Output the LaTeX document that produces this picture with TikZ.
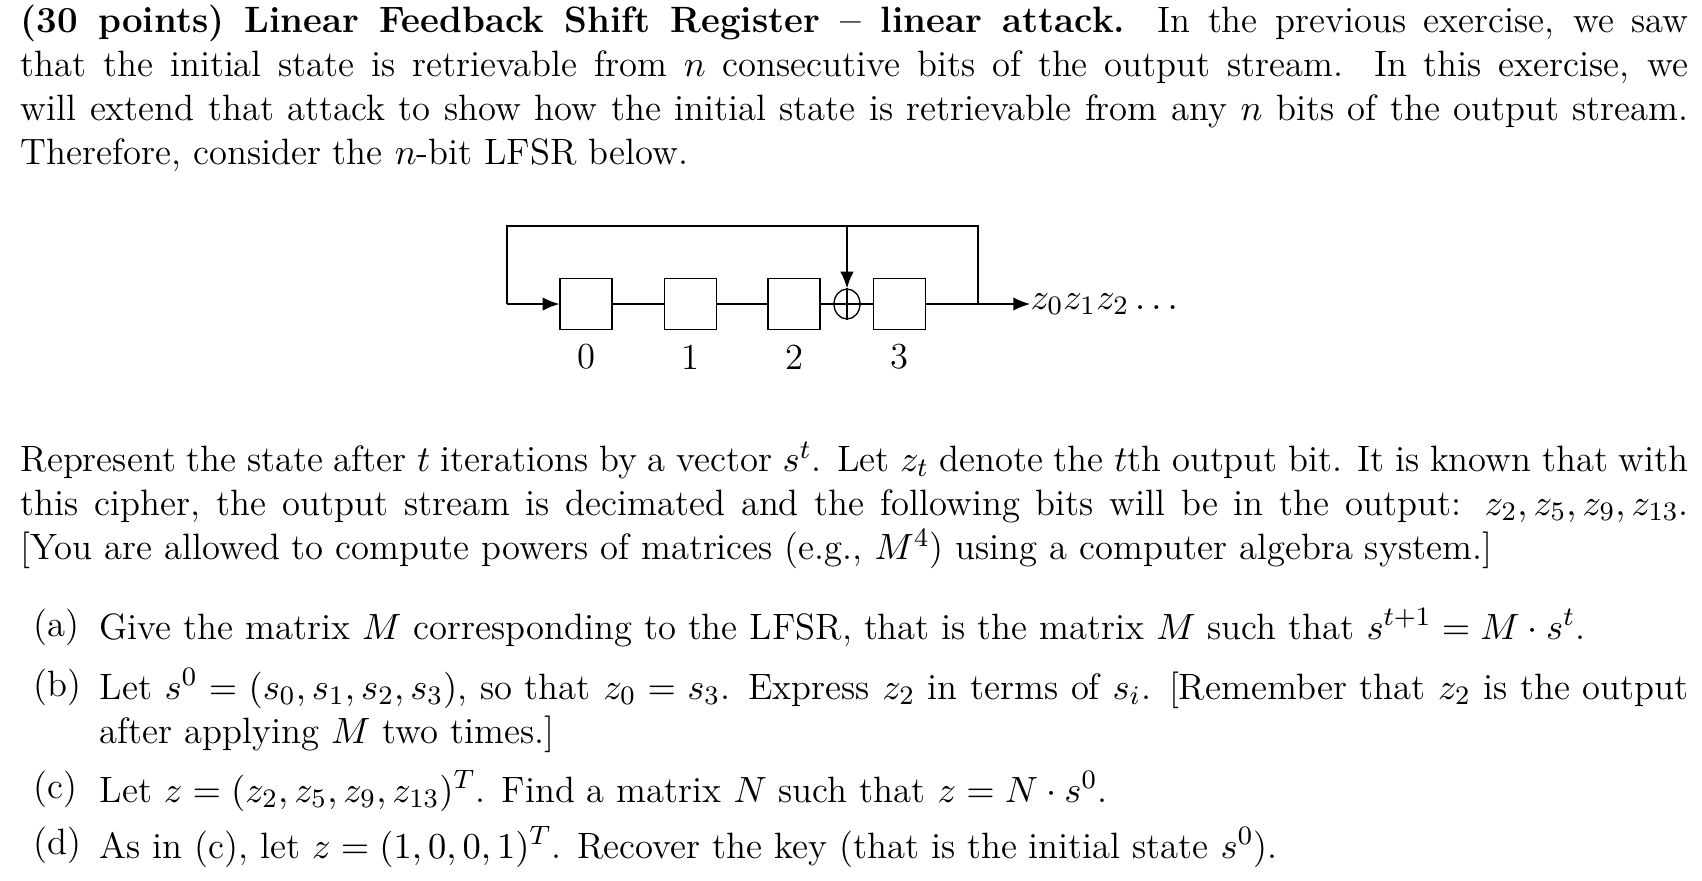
\documentclass[tikz,border=0pt]{standalone}
\usetikzlibrary{arrows.meta,shapes.geometric}
\begin{document}
\begin{tikzpicture}[x=0.3pt,y=-0.3pt,
  reg/.style={draw,minimum width=15.6pt,minimum height=15.3pt,inner sep=0pt},
  txt/.style={anchor=north west,inner sep=0pt,align=justify,font=\fontsize{11}{13.2}\selectfont},
  lab/.style={inner sep=0pt,font=\fontsize{11}{13.2}\selectfont},
  arr/.style={-{Latex[length=5pt,width=4pt]}}]
\useasboundingbox (0,0) rectangle (1702,880);
\node[txt,text width=500.4pt] (p1) at (20,4) {\textbf{(30 points) Linear Feedback Shift Register -- linear attack.} In the previous exercise, we saw\linebreak that the initial state is retrievable from $n$ consecutive bits of the output stream. In this exercise, we\linebreak will extend that attack to show how the initial state is retrievable from any $n$ bits of the output stream.\linebreak Therefore, consider the $n$-bit LFSR below.};
% diagram
\node[reg] (b0) at (586,304) {};
\node[reg] (b1) at (690.5,304) {};
\node[reg] (b2) at (794,304) {};
\node[reg] (b3) at (899.5,304) {};
\node[draw,ellipse,minimum width=7.8pt,minimum height=9pt,inner sep=0pt] (x) at (847,304) {};
\draw (x.north) -- (x.south) (x.west) -- (x.east);
\coordinate (r) at (978,304);
\coordinate (tr) at (978,226);
\coordinate (tl) at (507,226);
\coordinate (bl) at (507,304);
\coordinate (tm) at (847,226);
\node[lab,anchor=west] (out) at (1030,304) {$z_0z_1z_2\ldots$};
\draw (b0.east) -- (b1.west) (b1.east) -- (b2.west) (b2.east) -- (x.west) (x.east) -- (b3.west);
\draw (b3.east) -- (r) -- (tr) -- (tl) -- (bl);
\draw[arr] (bl) -- (b0.west);
\draw[arr] (tm) -- (x.north);
\draw[arr] (r) -- (out.west);
\node[lab] (l0) at (586,357) {0};
\node[lab] (l1) at (690.5,357) {1};
\node[lab] (l2) at (794,357) {2};
\node[lab] (l3) at (899.5,357) {3};
% paragraph 2
\node[txt,text width=500.4pt] (p2) at (20,441) {Represent the state after $t$ iterations by a vector $s^t$. Let $z_t$ denote the $t$th output bit. It is known that with\linebreak this cipher, the output stream is decimated and the following bits will be in the output: $z_2,z_5,z_9,z_{13}$.\linebreak{}[You are allowed to compute powers of matrices (e.g., $M^4$) using a computer algebra system.]};
% items
\node[lab,anchor=north west] (ia) at (33,608) {(a)};
\node[txt,text width=476.7pt] (ta) at (99,608) {Give the matrix $M$ corresponding to the LFSR, that is the matrix $M$ such that $s^{t+1}=M\cdot s^t$.};
\node[lab,anchor=north west] (ib) at (33,668) {(b)};
\node[txt,text width=476.7pt] (tb) at (99,668) {Let $s^0=(s_0,s_1,s_2,s_3)$, so that $z_0=s_3$. Express $z_2$ in terms of $s_i$. [Remember that $z_2$ is the output\linebreak after applying $M$ two times.]};
\node[lab,anchor=north west] (ic) at (33,770) {(c)};
\node[txt,text width=476.7pt] (tc) at (99,770) {Let $z=(z_2,z_5,z_9,z_{13})^T$. Find a matrix $N$ such that $z=N\cdot s^0$.};
\node[lab,anchor=north west] (id) at (33,826) {(d)};
\node[txt,text width=476.7pt] (td) at (99,826) {As in (c), let $z=(1,0,0,1)^T$. Recover the key (that is the initial state $s^0$).};
\end{tikzpicture}
\end{document}
